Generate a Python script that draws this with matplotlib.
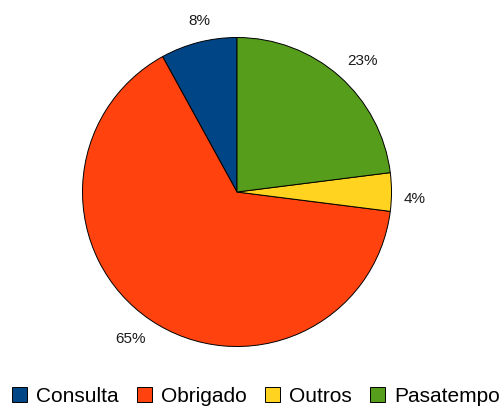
import matplotlib

matplotlib.use("Agg")
import matplotlib.pyplot as plt
import numpy as np

# slices in counter-clockwise order starting at 12 o'clock
categories = ["Consulta", "Obrigado", "Outros", "Pasatempo"]
shares = [8, 65, 4, 23]
colors = ["#004586", "#ff420e", "#ffd320", "#579d1c"]

plt.rcParams["font.family"] = ["Liberation Sans", "DejaVu Sans"]

W, H = 504, 410
CX, CY, R = 237, 217, 154.5  # pie centre (from bottom-left) and radius, px
LABEL_GAP = 12  # px between pie edge and label box
ANGLE_SHIFT = -2.0  # labels sit a little clockwise of the slice middle

fig = plt.figure(figsize=(W / 100, H / 100), dpi=100)
ax = fig.add_axes([0, 0, 1, 1])

wedges, _, pct = ax.pie(
    shares,
    colors=colors,
    startangle=90,
    counterclock=True,
    autopct="%d%%",
    pctdistance=1.17,
    wedgeprops={"edgecolor": "black", "linewidth": 0.7},
    textprops={"fontsize": 11, "color": "#1a1a1a", "ha": "center", "va": "center"},
)

ax.set_xlim(-CX / R, (W - CX) / R)
ax.set_ylim(-CY / R, (H - CY) / R)
ax.set_aspect("auto")
ax.axis("off")

# push each label out so its box keeps a fixed gap from the rim
renderer = fig.canvas.get_renderer()
for w, t in zip(wedges, pct):
    ang = np.deg2rad((w.theta1 + w.theta2) / 2 + ANGLE_SHIFT)
    bb = t.get_window_extent(renderer)
    half = abs(np.cos(ang)) * bb.width / 2 + abs(np.sin(ang)) * bb.height / 2
    r = (R + LABEL_GAP + half) / R
    t.set_position((r * np.cos(ang), r * np.sin(ang)))

ax.legend(
    wedges,
    categories,
    loc="center",
    bbox_to_anchor=(256 / W, 13 / H),
    bbox_transform=fig.transFigure,
    ncol=4,
    frameon=False,
    fontsize=15,
    handlelength=0.72,
    handleheight=0.72,
    handletextpad=0.43,
    columnspacing=0.87,
    borderpad=0,
    borderaxespad=0,
)

fig.savefig("out.png", dpi=100)
